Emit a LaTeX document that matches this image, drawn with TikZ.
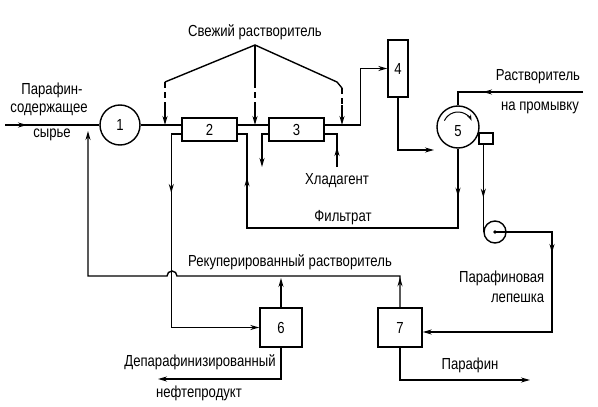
\documentclass[tikz,border=0pt]{standalone}
\usepackage{fontspec}
\setmainfont{Liberation Sans}[FakeStretch=0.82]
\usetikzlibrary{arrows.meta,positioning,decorations.markings}

\begin{document}
\begin{tikzpicture}[x=1pt,y=-1pt,line width=1.4pt,
  >={Stealth[length=9pt,width=5pt]},
  unit/.style={draw,rectangle,inner sep=0pt,font=\fontsize{16}{16}\selectfont},
  vessel/.style={draw,circle,inner sep=0pt,font=\fontsize{16}{16}\selectfont},
  lbl/.style={inner sep=0pt,font=\fontsize{16}{16}\selectfont},
  midarrow/.style={postaction={decorate,decoration={markings,
      mark=at position #1 with {\arrow{>}}}}}]
\useasboundingbox (0,0) rectangle (598,407);

% apparatus
\node[vessel, minimum size=40pt] (c1) at (120,125) {1};
\node[unit, minimum width=55pt, minimum height=23pt] (b2) at (209.5,129.5) {2};
\node[unit, minimum width=55pt, minimum height=23pt] (b3) at (296.5,129.5) {3};
\node[unit, minimum width=20pt, minimum height=57pt] (b4) at (398,68.5) {4};
\node[draw, circle, inner sep=0pt, minimum size=42pt] (c5) at (458,127) {};
\node[lbl] (n5) at (458,131) {5};
\node[draw, rectangle, inner sep=0pt, minimum width=14pt, minimum height=11pt] (sq) at (486,138.5) {};
\node[draw, circle, inner sep=0pt, minimum size=22pt] (c8) at (495,232) {};
\node[unit, minimum width=42pt, minimum height=39pt] (b6) at (281,327.5) {6};
\node[unit, minimum width=44pt, minimum height=39pt] (b7) at (400,327.5) {7};

% labels
\node[lbl] (fresh) at (255,32) {Свежий растворитель};
\node[lbl] (feed1) at (52,90) {Парафин-};
\node[lbl] (feed2) at (49,110) {содержащее};
\node[lbl] (feed3) at (52,135) {сырье};
\node[lbl] (coolant) at (337,181) {Хладагент};
\node[lbl] (wash1) at (538,77) {Растворитель};
\node[lbl] (wash2) at (540,108) {на промывку};
\node[lbl] (filtrate) at (343,218) {Фильтрат};
\node[lbl] (recov) at (290,262) {Рекуперированный растворитель};
\node[lbl, anchor=east] (cake1) at (545,278) {Парафиновая};
\node[lbl, anchor=east] (cake2) at (545,298) {лепешка};
\node[lbl] (waxlbl) at (470,365) {Парафин};
\node[lbl] (oil1) at (200,362) {Депарафинизированный};
\node[lbl] (oil2) at (199,393) {нефтепродукт};

% levels and free ends
\coordinate (hi) at (0,125);
\coordinate (lo) at (0,134);
\coordinate (feed) at (5,125);
\coordinate (apex) at (255,45);
\coordinate (s1) at (165,82);
\coordinate (s1b) at (165,105);
\coordinate (s2) at (255,82);
\coordinate (s2b) at (255,105);
\coordinate (s3) at (337,82);
\coordinate (s3k) at (342,88);
\coordinate (s3b) at (342,105);
\coordinate (slurry) at (434,150);
\coordinate (wash) at (583,92);
\coordinate (filtL) at (247,228);
\coordinate (drain) at (262,167);
\coordinate (cool) at (337,167);
\coordinate (cake) at (552,332);
\coordinate (rec) at (88,276);
\coordinate (recret) at (88,131);
\coordinate (dewax) at (158,379);
\coordinate (wax) at (530,380);

% main line
\draw[midarrow=22pt] (feed) -- (c1.west);
\draw (c1.east) -- (b2.west |- hi);
\draw (b2.east |- hi) -- (b3.west |- hi);
\draw[->] (b3.east |- hi) -- ++(36,0) |- (b4.west);
\draw[->] (b4.south) |- (slurry);

% fresh solvent
\draw (s1) -- (apex) -- (s3) -- (s3k);
\draw (apex) -- (s2);
\draw[dash pattern=on 6pt off 4pt] (s1) -- (s1b);
\draw[dash pattern=on 6pt off 4pt] (s2) -- (s2b);
\draw[dash pattern=on 6pt off 4pt] (s3k) -- (s3b);
\draw[->] (s1b) -- (s1 |- hi);
\draw[->] (s2b) -- (s2 |- hi);
\draw[->] (s3b) -- (s3k |- hi);

% chilling
\draw[->] (b3.west |- lo) -| (drain);
\draw[midarrow=20pt] (cool) |- (b3.east |- lo);

% filter
\draw[midarrow=100pt] (wash) -| (c5.north);
\draw[->, line width=1pt, >={Stealth[length=6pt,width=4pt]}] (c5.center) ++(205:15) arc[start angle=205, end angle=335, radius=15];
\draw[midarrow=48pt, midarrow=341pt] (c5.south) |- (filtL) |- (b2.east |- lo);
\draw[midarrow=53pt] (sq.south -| c8.west) -- (c8.west);
\fill (c8.center) circle (1.8);
\draw[->, midarrow=78pt] (c8.center) -| (cake) -- (b7.east |- cake);

% recovery
\draw[->, midarrow=69pt] (b2.west |- lo) -- ++(-10,0) |- (b6.west);
\draw[->] (b6.north) -- (b6.north |- 0,278);
\draw[->, midarrow=30pt] (b7.north) |- (177,276) arc[start angle=0, end angle=-180, radius=5] -- (rec) -- (recret);
\draw[->] (b6.south) |- (dewax);
\draw[->] (b7.south) |- (wax);
\end{tikzpicture}
\end{document}
